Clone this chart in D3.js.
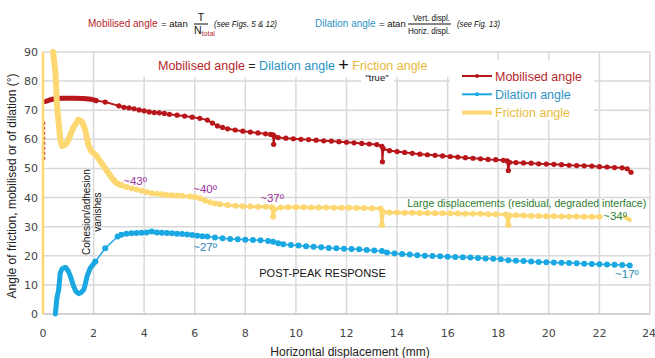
<!DOCTYPE html>
<html>
<head>
<meta charset="utf-8">
<script src="https://cdn.jsdelivr.net/npm/d3@7"></script>
<style>
  body { margin: 0; background: #fff; }
  svg text { font-family: "Liberation Sans", Arial, sans-serif; }
</style>
</head>
<body>
<div id="chart"></div>
<script>
const svgWidth = 655;
const svgHeight = 358;
const margin = {top: 52, right: 5, bottom: 44, left: 43};

const width = svgWidth - margin.left - margin.right;
const height = svgHeight - margin.top - margin.bottom;

const xTicks = [0, 2, 4, 6, 8, 10, 12, 14, 16, 18, 20, 22, 24];
const yTicks = [0, 10, 20, 30, 40, 50, 60, 70, 80, 90];

// [displacement mm, angle deg]
const mobilisedStart = [[0.05, 53], [0.05, 66]];
const mobilisedPeak = [[0.1, 73], [0.3, 73.6], [0.5, 74], [0.8, 74.1], [1.2, 74.1], [1.6, 74], [1.9, 73.8], [2.1, 73.3]];
const mobilised = [
  [2.1, 73.3], [2.46, 72.8], [3.0, 71.5], [3.2, 71.0], [3.4, 70.8], [3.6, 70.5], [3.8, 70.1], [4.0, 69.8],
  [4.2, 69.4], [4.4, 69.2], [4.6, 69.1], [4.8, 68.9], [5.0, 68.6], [5.3, 68.3], [5.6, 68.0], [5.9, 67.6],
  [6.2, 67.2], [6.5, 66.6], [6.7, 65.6], [6.9, 64.6], [7.1, 64.1], [7.3, 63.6], [7.6, 63.2], [7.9, 62.8],
  [8.2, 62.5], [8.5, 62.2], [8.8, 61.9], [9.0, 61.7], [9.1, 61.5], [9.12, 58.3], [9.15, 61.0], [9.3, 60.6],
  [9.6, 60.4], [9.9, 60.2], [10.2, 60.0], [10.5, 59.9], [10.8, 59.7], [11.1, 59.5], [11.4, 59.4], [11.7, 59.2],
  [12.0, 59.0], [12.3, 58.8], [12.6, 58.6], [12.9, 58.4], [13.2, 58.2], [13.4, 57.6], [13.42, 52.3], [13.45, 56.8],
  [13.7, 56.1], [14.0, 55.8], [14.3, 55.5], [14.6, 55.2], [14.9, 54.9], [15.2, 54.7], [15.5, 54.5], [15.8, 54.3],
  [16.1, 54.1], [16.4, 53.9], [16.7, 53.7], [17.0, 53.5], [17.3, 53.3], [17.6, 53.1], [17.9, 53.0], [18.2, 52.8],
  [18.35, 52.6], [18.4, 49.3], [18.45, 52.1], [18.7, 52.0], [19.0, 51.9], [19.3, 51.8], [19.6, 51.6], [19.9, 51.5],
  [20.2, 51.4], [20.5, 51.3], [20.8, 51.1], [21.1, 51.0], [21.4, 50.9], [21.7, 50.8], [22.0, 50.6], [22.3, 50.5],
  [22.6, 50.3], [22.9, 50.2], [23.1, 49.9], [23.25, 48.7]
];

const frictionStart = [[0, 0], [0, 90]];
const frictionPeak = [
  [0.4, 90], [0.45, 86], [0.5, 82], [0.55, 72], [0.62, 65.5], [0.68, 60], [0.75, 57.7], [0.9, 58.2],
  [1.0, 59.7], [1.2, 64], [1.4, 66.8], [1.55, 66], [1.67, 63.2], [1.8, 58], [1.9, 56], [2.1, 54.6],
  [2.3, 52], [2.5, 49.5], [2.7, 47], [2.9, 45], [3.1, 44.2]
];
const friction = [
  [3.1, 44.2], [3.3, 43.6], [3.5, 43.2], [3.7, 42.8], [3.9, 42.3], [4.1, 41.9], [4.3, 41.5], [4.5, 41.3],
  [4.7, 41.1], [4.9, 40.9], [5.1, 40.8], [5.3, 40.7], [5.5, 40.6], [5.8, 40.4], [6.0, 40.2], [6.2, 39.8],
  [6.4, 39.0], [6.6, 38.4], [6.8, 38.0], [7.0, 37.7], [7.3, 37.4], [7.6, 37.2], [7.9, 37.0], [8.2, 36.9],
  [8.5, 36.8], [8.8, 36.8], [9.05, 36.7], [9.1, 33.4], [9.15, 36.0], [9.4, 36.6], [9.7, 36.7], [10.0, 36.7],
  [10.3, 36.7], [10.6, 36.6], [10.9, 36.6], [11.2, 36.6], [11.5, 36.5], [11.8, 36.5], [12.1, 36.5], [12.4, 36.4],
  [12.7, 36.4], [13.0, 36.3], [13.35, 36.2], [13.4, 30.6], [13.45, 35.0], [13.7, 34.9], [14.0, 34.9], [14.3, 34.8],
  [14.6, 34.8], [14.9, 34.7], [15.2, 34.7], [15.5, 34.6], [15.8, 34.6], [16.1, 34.5], [16.4, 34.5], [16.7, 34.4],
  [17.0, 34.4], [17.3, 34.4], [17.6, 34.3], [17.9, 34.3], [18.3, 34.2], [18.4, 30.6], [18.45, 33.8], [18.7, 33.9],
  [19.0, 33.8], [19.3, 33.7], [19.6, 33.7], [19.9, 33.6], [20.2, 33.6], [20.5, 33.5], [20.8, 33.5], [21.1, 33.5],
  [21.4, 33.4], [21.7, 33.4], [22.0, 33.4]
];
const frictionEnd = [[23.0, 33.4], [23.2, 32.3]];

const dilationPeak = [
  [0.49, 0], [0.52, 3], [0.55, 5.5], [0.62, 8.3], [0.68, 14], [0.75, 15.5], [0.82, 15.8], [0.9, 16],
  [1.01, 14.6], [1.1, 12.5], [1.21, 9.5], [1.3, 7.8], [1.41, 7], [1.5, 7.3], [1.61, 8.3], [1.68, 10.5],
  [1.74, 12.9], [1.87, 15.8], [2.07, 18.0]
];
const dilation = [
  [2.07, 18.0], [2.46, 22.6], [2.95, 26.6], [3.1, 27.2], [3.3, 27.6], [3.5, 27.7], [3.7, 27.8], [3.9, 27.9],
  [4.1, 28.0], [4.3, 28.3], [4.5, 28.0], [4.7, 27.9], [4.9, 27.8], [5.1, 27.7], [5.3, 27.6], [5.5, 27.5],
  [5.7, 27.3], [5.9, 27.1], [6.1, 26.9], [6.3, 26.7], [6.5, 26.6], [6.8, 26.3], [7.1, 26.0], [7.4, 25.8],
  [7.7, 25.7], [8.0, 25.5], [8.3, 25.4], [8.6, 25.3], [8.9, 25.1], [9.1, 24.8], [9.3, 24.3], [9.5, 24.0],
  [9.8, 23.7], [10.1, 23.5], [10.4, 23.3], [10.7, 23.1], [11.0, 22.9], [11.3, 22.7], [11.6, 22.6], [11.9, 22.4],
  [12.2, 22.3], [12.5, 22.2], [12.8, 22.0], [13.1, 21.8], [13.4, 21.6], [13.6, 21.1], [13.9, 20.8], [14.2, 20.6],
  [14.5, 20.4], [14.8, 20.2], [15.1, 20.0], [15.4, 19.9], [15.7, 19.8], [16.0, 19.7], [16.3, 19.6], [16.6, 19.5],
  [16.9, 19.4], [17.2, 19.2], [17.5, 19.1], [17.8, 19.0], [18.1, 18.8], [18.4, 18.5], [18.7, 18.3], [19.0, 18.2],
  [19.3, 18.0], [19.6, 17.9], [19.9, 17.8], [20.2, 17.7], [20.5, 17.6], [20.8, 17.5], [21.1, 17.4], [21.4, 17.3],
  [21.7, 17.2], [22.0, 17.1], [22.3, 17.0], [22.6, 16.9], [22.9, 16.8], [23.2, 16.7]
];

const RED = "#b8161b";
const BLUE = "#1aa8e2";
const YELLOW = "#fdd872";

const x = d3.scaleLinear().domain([0, 24]).range([0, width]);
const y = d3.scaleLinear().domain([0, 90]).range([height, 0]);

const line = d3.line()
    .x(d => x(d[0]))
    .y(d => y(d[1]));

const root = d3.select("#chart")
    .append("svg")
    .attr("width", svgWidth)
    .attr("height", svgHeight);

const svg = root.append("g")
    .attr("transform", `translate(${margin.left},${margin.top})`);

// grid
svg.append("g")
    .selectAll("line")
    .data(xTicks)
    .join("line")
    .attr("x1", d => x(d)).attr("x2", d => x(d))
    .attr("y1", 0).attr("y2", height)
    .attr("stroke", "#d9d9d9").attr("stroke-width", 1.5);

svg.append("g")
    .selectAll("line")
    .data(yTicks)
    .join("line")
    .attr("x1", 0).attr("x2", width)
    .attr("y1", d => y(d)).attr("y2", d => y(d))
    .attr("stroke", d => d === 0 ? "#c4c4c4" : "#d9d9d9").attr("stroke-width", 1.5);

// tick labels
svg.append("g")
    .selectAll("text")
    .data(xTicks)
    .join("text")
    .attr("x", d => x(d))
    .attr("y", height + 23)
    .attr("text-anchor", d => d === 24 ? "end" : "middle")
    .attr("dx", d => d === 24 ? 6 : 0)
    .attr("font-size", "11px")
    .attr("fill", "#444")
    .style("font-family", "'DejaVu Sans', sans-serif")
    .text(d => d);

svg.append("g")
    .selectAll("text")
    .data(yTicks)
    .join("text")
    .attr("x", -5)
    .attr("y", d => y(d) + 4)
    .attr("text-anchor", "end")
    .attr("font-size", "11px")
    .attr("fill", "#444")
    .style("font-family", "'DejaVu Sans', sans-serif")
    .text(d => d);

// axis titles
root.append("text")
    .attr("x", 350)
    .attr("y", 356)
    .attr("text-anchor", "middle")
    .attr("font-size", "12px")
    .attr("fill", "#222")
    .text("Horizontal displacement (mm)");

root.append("text")
    .attr("transform", "translate(16,186) rotate(-90)")
    .attr("text-anchor", "middle")
    .attr("font-size", "12px")
    .attr("fill", "#222")
    .text("Angle of friction, mobilised or of dilation  (°)");

// white boxes behind equation and legend
svg.append("rect")
    .attr("x", 100).attr("y", 1).attr("width", 308).attr("height", 24)
    .attr("fill", "#fff");
svg.append("rect")
    .attr("x", 318).attr("y", 20).attr("width", 33).attr("height", 12)
    .attr("fill", "#fff");
svg.append("rect")
    .attr("x", 407).attr("y", 8).attr("width", 144).attr("height", 60)
    .attr("fill", "#fff");

// series
svg.append("path")
    .datum(mobilisedStart)
    .attr("d", line)
    .attr("fill", "none")
    .attr("stroke", "#c24a2a").attr("stroke-width", 2)
    .attr("stroke-dasharray", "3,2");

svg.append("path")
    .datum(mobilisedPeak)
    .attr("d", line)
    .attr("fill", "none")
    .attr("stroke", RED).attr("stroke-width", 5)
    .attr("stroke-linecap", "round");

svg.append("path")
    .datum(mobilised)
    .attr("d", line)
    .attr("fill", "none")
    .attr("stroke", RED).attr("stroke-width", 2);

svg.append("g")
    .selectAll("circle")
    .data(mobilised)
    .join("circle")
    .attr("cx", d => x(d[0]))
    .attr("cy", d => y(d[1]))
    .attr("r", 2.6)
    .attr("fill", RED);

svg.append("path")
    .datum(dilationPeak)
    .attr("d", line)
    .attr("fill", "none")
    .attr("stroke", BLUE).attr("stroke-width", 5)
    .attr("stroke-linejoin", "round")
    .attr("stroke-linecap", "round");

svg.append("path")
    .datum(dilation)
    .attr("d", line)
    .attr("fill", "none")
    .attr("stroke", BLUE).attr("stroke-width", 1.5);

svg.append("g")
    .selectAll("circle")
    .data(dilation)
    .join("circle")
    .attr("cx", d => x(d[0]))
    .attr("cy", d => y(d[1]))
    .attr("r", 3)
    .attr("fill", BLUE);

svg.append("path")
    .datum(frictionStart)
    .attr("d", line)
    .attr("fill", "none")
    .attr("stroke", YELLOW).attr("stroke-width", 2.5);

svg.append("path")
    .datum(frictionPeak)
    .attr("d", line)
    .attr("fill", "none")
    .attr("stroke", YELLOW).attr("stroke-width", 6)
    .attr("stroke-linejoin", "round")
    .attr("stroke-linecap", "round");

svg.append("path")
    .datum(friction)
    .attr("d", line)
    .attr("fill", "none")
    .attr("stroke", YELLOW).attr("stroke-width", 3);

svg.append("path")
    .datum(frictionEnd)
    .attr("d", line)
    .attr("fill", "none")
    .attr("stroke", YELLOW).attr("stroke-width", 4)
    .attr("stroke-linecap", "round");

svg.append("g")
    .selectAll("circle")
    .data(friction)
    .join("circle")
    .attr("cx", d => x(d[0]))
    .attr("cy", d => y(d[1]))
    .attr("r", 3)
    .attr("fill", YELLOW);

// legend
const legendItems = [
  {label: "Mobilised angle", color: RED, text: "#b5262a", w: 2},
  {label: "Dilation angle", color: BLUE, text: "#2e92c4", w: 2},
  {label: "Friction angle", color: YELLOW, text: "#e9b93a", w: 4}
];
const legend = svg.append("g").attr("transform", "translate(419,24)");
legendItems.forEach((d, i) => {
  const g = legend.append("g").attr("transform", `translate(0,${i * 18.3})`);
  g.append("line").attr("x1", 0).attr("x2", 30).attr("y1", 0).attr("y2", 0)
    .attr("stroke", d.color).attr("stroke-width", d.w);
  g.append("circle").attr("cx", 15).attr("cy", 0).attr("r", 2).attr("fill", d.color);
  g.append("text").attr("x", 33).attr("y", 4.5)
    .attr("font-size", "12.5px").attr("fill", d.text).text(d.label);
});

// equation inside chart
const eq = svg.append("text")
    .attr("x", 115)
    .attr("y", 18)
    .attr("font-size", "12.5px");
eq.append("tspan").attr("fill", "#b5262a").text("Mobilised angle");
eq.append("tspan").attr("fill", "#222").text(" = ");
eq.append("tspan").attr("fill", "#2e92c4").text("Dilation angle ");
eq.append("tspan").attr("fill", "#111").attr("font-size", "18px").attr("dy", 1).text("+");
eq.append("tspan").attr("fill", "#e9b93a").attr("dy", -1).text(" Friction angle");

svg.append("text")
    .attr("x", 334).attr("y", 29)
    .attr("text-anchor", "middle")
    .attr("font-size", "9.5px")
    .attr("fill", "#111")
    .text("\"true\"");

// annotations
const annot = [
  {t: "~43º", x: 3.17, y: 44.4, c: "#9b2f9b"},
  {t: "~40º", x: 5.94, y: 41.4, c: "#9b2f9b"},
  {t: "~37º", x: 8.59, y: 38.6, c: "#9b2f9b"},
  {t: "~27º", x: 5.94, y: 21.6, c: "#2a86b3"},
  {t: "~17º", x: 22.62, y: 12.3, c: "#2a86b3"}
];
svg.append("g")
    .selectAll("text")
    .data(annot)
    .join("text")
    .attr("x", d => x(d.x))
    .attr("y", d => y(d.y))
    .attr("font-size", "11.5px")
    .attr("fill", d => d.c)
    .text(d => d.t);

svg.append("text")
    .attr("x", x(22.15)).attr("y", y(32.2))
    .attr("font-size", "11.5px")
    .attr("fill", "#2f7d2f")
    .text("~34º");

svg.append("text")
    .attr("x", x(14.4)).attr("y", y(36.6))
    .attr("font-size", "10.6px")
    .attr("fill", "#2f7d2f")
    .text("Large displacements (residual, degraded interface)");

svg.append("text")
    .attr("x", x(8.55)).attr("y", y(12.8))
    .attr("font-size", "11px")
    .attr("fill", "#111")
    .text("POST-PEAK RESPONSE");

const coh = svg.append("text")
    .attr("transform", `translate(${x(1.87)},${y(35)}) rotate(-90)`)
    .attr("text-anchor", "middle")
    .attr("font-size", "10px")
    .attr("fill", "#111");
coh.append("tspan").attr("x", 0).attr("dy", 0).text("Cohesion/adhesion");
coh.append("tspan").attr("x", 0).attr("dy", 11).text("vanishes");

// header formulas
const head = root.append("g");
function headText(str, xPos, yPos, size, color, len, italic) {
  const t = head.append("text")
      .attr("x", xPos).attr("y", yPos)
      .attr("font-size", size + "px")
      .attr("fill", color)
      .attr("font-style", italic ? "italic" : null)
      .text(str);
  if (len) t.attr("textLength", len).attr("lengthAdjust", "spacingAndGlyphs");
  return t;
}
headText("Mobilised angle", 88, 27, 10, "#b5262a");
headText("= atan", 161, 27, 9.5, "#111");
head.append("text").attr("x", 201).attr("y", 21).attr("text-anchor", "middle")
    .attr("font-size", "10.5px").attr("fill", "#111").text("T");
head.append("line").attr("x1", 194).attr("x2", 208).attr("y1", 24).attr("y2", 24)
    .attr("stroke", "#111").attr("stroke-width", 1);
const nt = head.append("text").attr("x", 194).attr("y", 34).attr("font-size", "10.5px").attr("fill", "#111");
nt.append("tspan").text("N");
nt.append("tspan").attr("font-size", "7px").attr("dy", 2).attr("fill", "#b5262a").text("total");
headText("(see Figs. 5 & 12)", 214, 27, 9.5, "#111", 63, true);

headText("Dilation angle", 315, 27, 10, "#2e92c4");
headText("= atan", 379, 27, 9.5, "#111");
headText("Vert. displ.", 413, 21, 9, "#111", 37);
head.append("line").attr("x1", 408).attr("x2", 451).attr("y1", 24).attr("y2", 24)
    .attr("stroke", "#111").attr("stroke-width", 1);
headText("Horiz. displ.", 408, 34, 9, "#111", 42);
headText("(see Fig. 13)", 457, 27, 9.5, "#111", 43, true);
</script>
</body>
</html>
